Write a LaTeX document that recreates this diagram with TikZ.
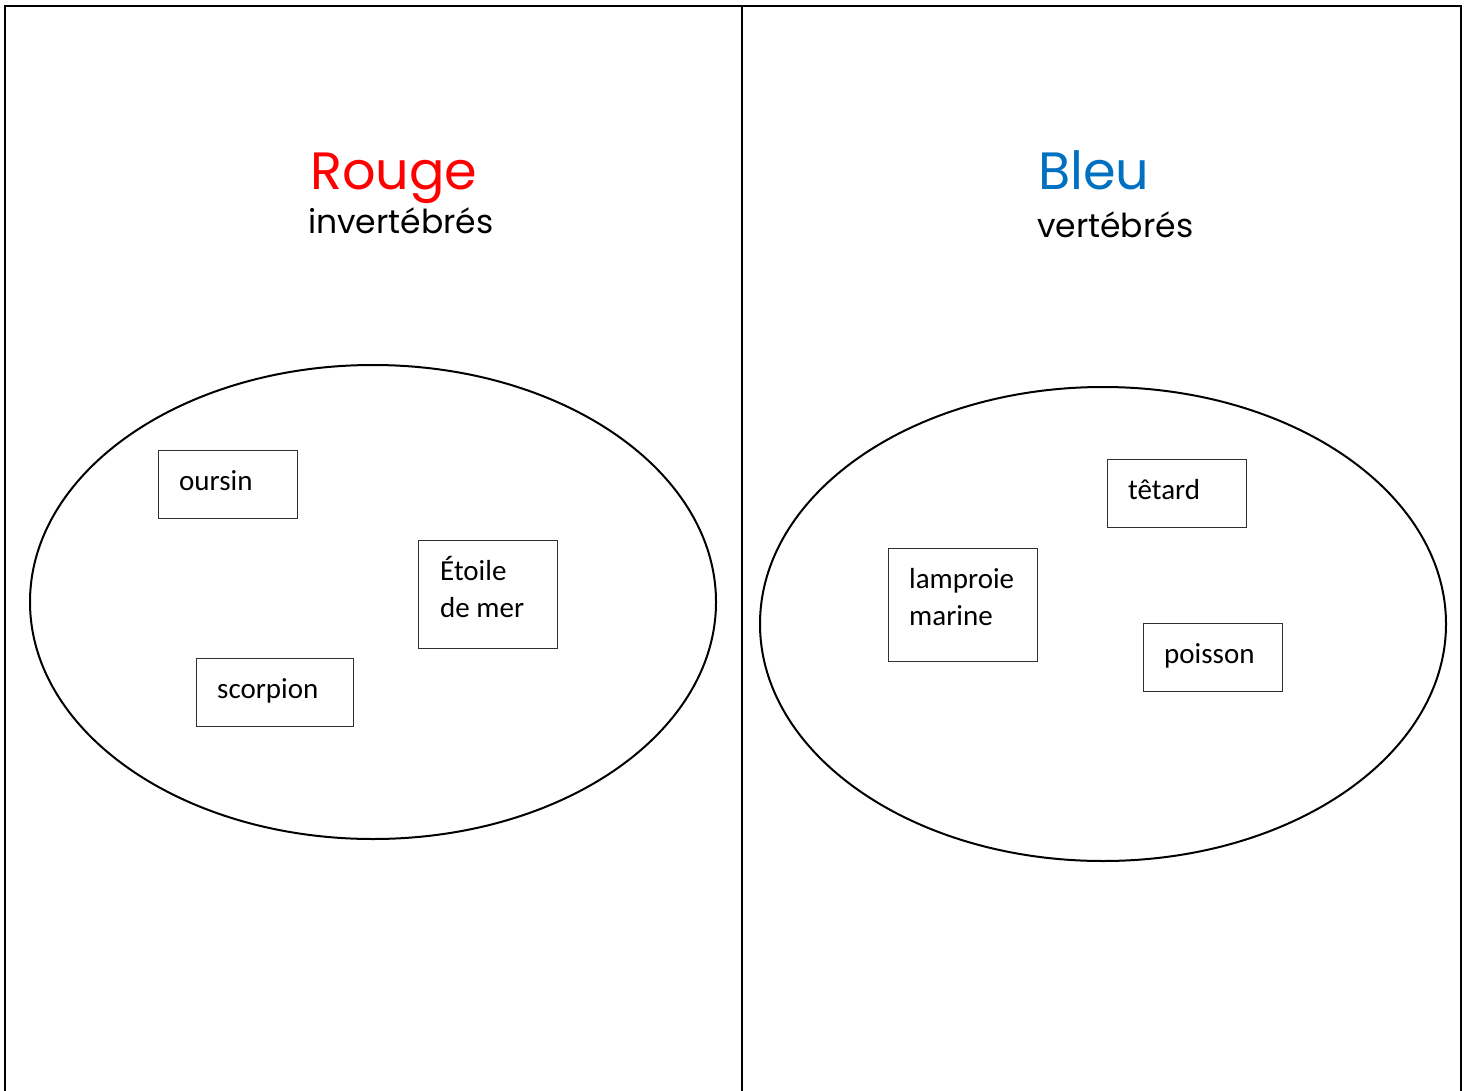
\documentclass[tikz,border=0pt]{standalone}
\usepackage{fontspec}
\usetikzlibrary{shapes.geometric}
\setmainfont{Carlito}
\newfontfamily\titlefont{Poppins}
\definecolor{rougeT}{HTML}{FF0000}
\definecolor{bleuT}{HTML}{0070C0}
\definecolor{boxgray}{HTML}{303030}
\begin{document}
\begin{tikzpicture}[x=1pt,y=-1pt,
  frame/.style={line width=2.2pt,black},
  set/.style={draw=black,line width=2pt,ellipse,inner sep=0pt,minimum width=686pt,minimum height=474pt},
  animalbox/.style={draw=boxgray,line width=1.2pt,inner sep=0pt,anchor=north west},
  lbl/.style={inner sep=0pt,anchor=base west,font=\fontsize{29}{37}\selectfont},
  bigtitle/.style={inner sep=0pt,anchor=base west,font=\titlefont\fontsize{52.5}{60}\selectfont},
  subtitle/.style={inner sep=0pt,anchor=base west,font=\titlefont\fontsize{33}{40}\selectfont}]
\useasboundingbox (0,0) rectangle (1469,1091);
\fill[white] (0,0) rectangle (1469,1091);
% table frame
\coordinate (tl) at (5,6);
\coordinate (tm) at (742,6);
\coordinate (tr) at (1461,6);
\coordinate (bl) at (5,1091);
\coordinate (bm) at (742,1091);
\coordinate (br) at (1461,1091);
\draw[frame] (bl) -- (tl) -- (tr) -- (br);
\draw[frame] (tm) -- (bm);
% titles
\node[bigtitle,text=rougeT] (rouge) at (310,190) {Rouge};
\node[subtitle] (inv) at (308,234) {invertébrés};
\node[bigtitle,text=bleuT] (bleu) at (1038,190) {Bleu};
\node[subtitle] (vert) at (1037,238) {vertébrés};
% sets
\node[set] (left) at (373,602) {};
\node[set] (right) at (1103,624) {};
% left boxes
\node[animalbox,minimum width=139pt,minimum height=68pt] (b1) at (158,450) {};
\node[lbl] (t1) at (179,490) {oursin};
\node[animalbox,minimum width=139pt,minimum height=108pt] (b2) at (418,540) {};
\node[lbl] (t2a) at (440,580) {Étoile};
\node[lbl] (t2b) at (440,617) {de mer};
\node[animalbox,minimum width=157pt,minimum height=68pt] (b3) at (196,658) {};
\node[lbl] (t3) at (217,698) {scorpion};
% right boxes
\node[animalbox,minimum width=139pt,minimum height=68pt] (b4) at (1107,459) {};
\node[lbl] (t4) at (1128,499) {têtard};
\node[animalbox,minimum width=149pt,minimum height=113pt] (b5) at (888,548) {};
\node[lbl] (t5a) at (909,588) {lamproie};
\node[lbl] (t5b) at (909,625) {marine};
\node[animalbox,minimum width=139pt,minimum height=68pt] (b6) at (1143,623) {};
\node[lbl] (t6) at (1164,663) {poisson};
\end{tikzpicture}
\end{document}
